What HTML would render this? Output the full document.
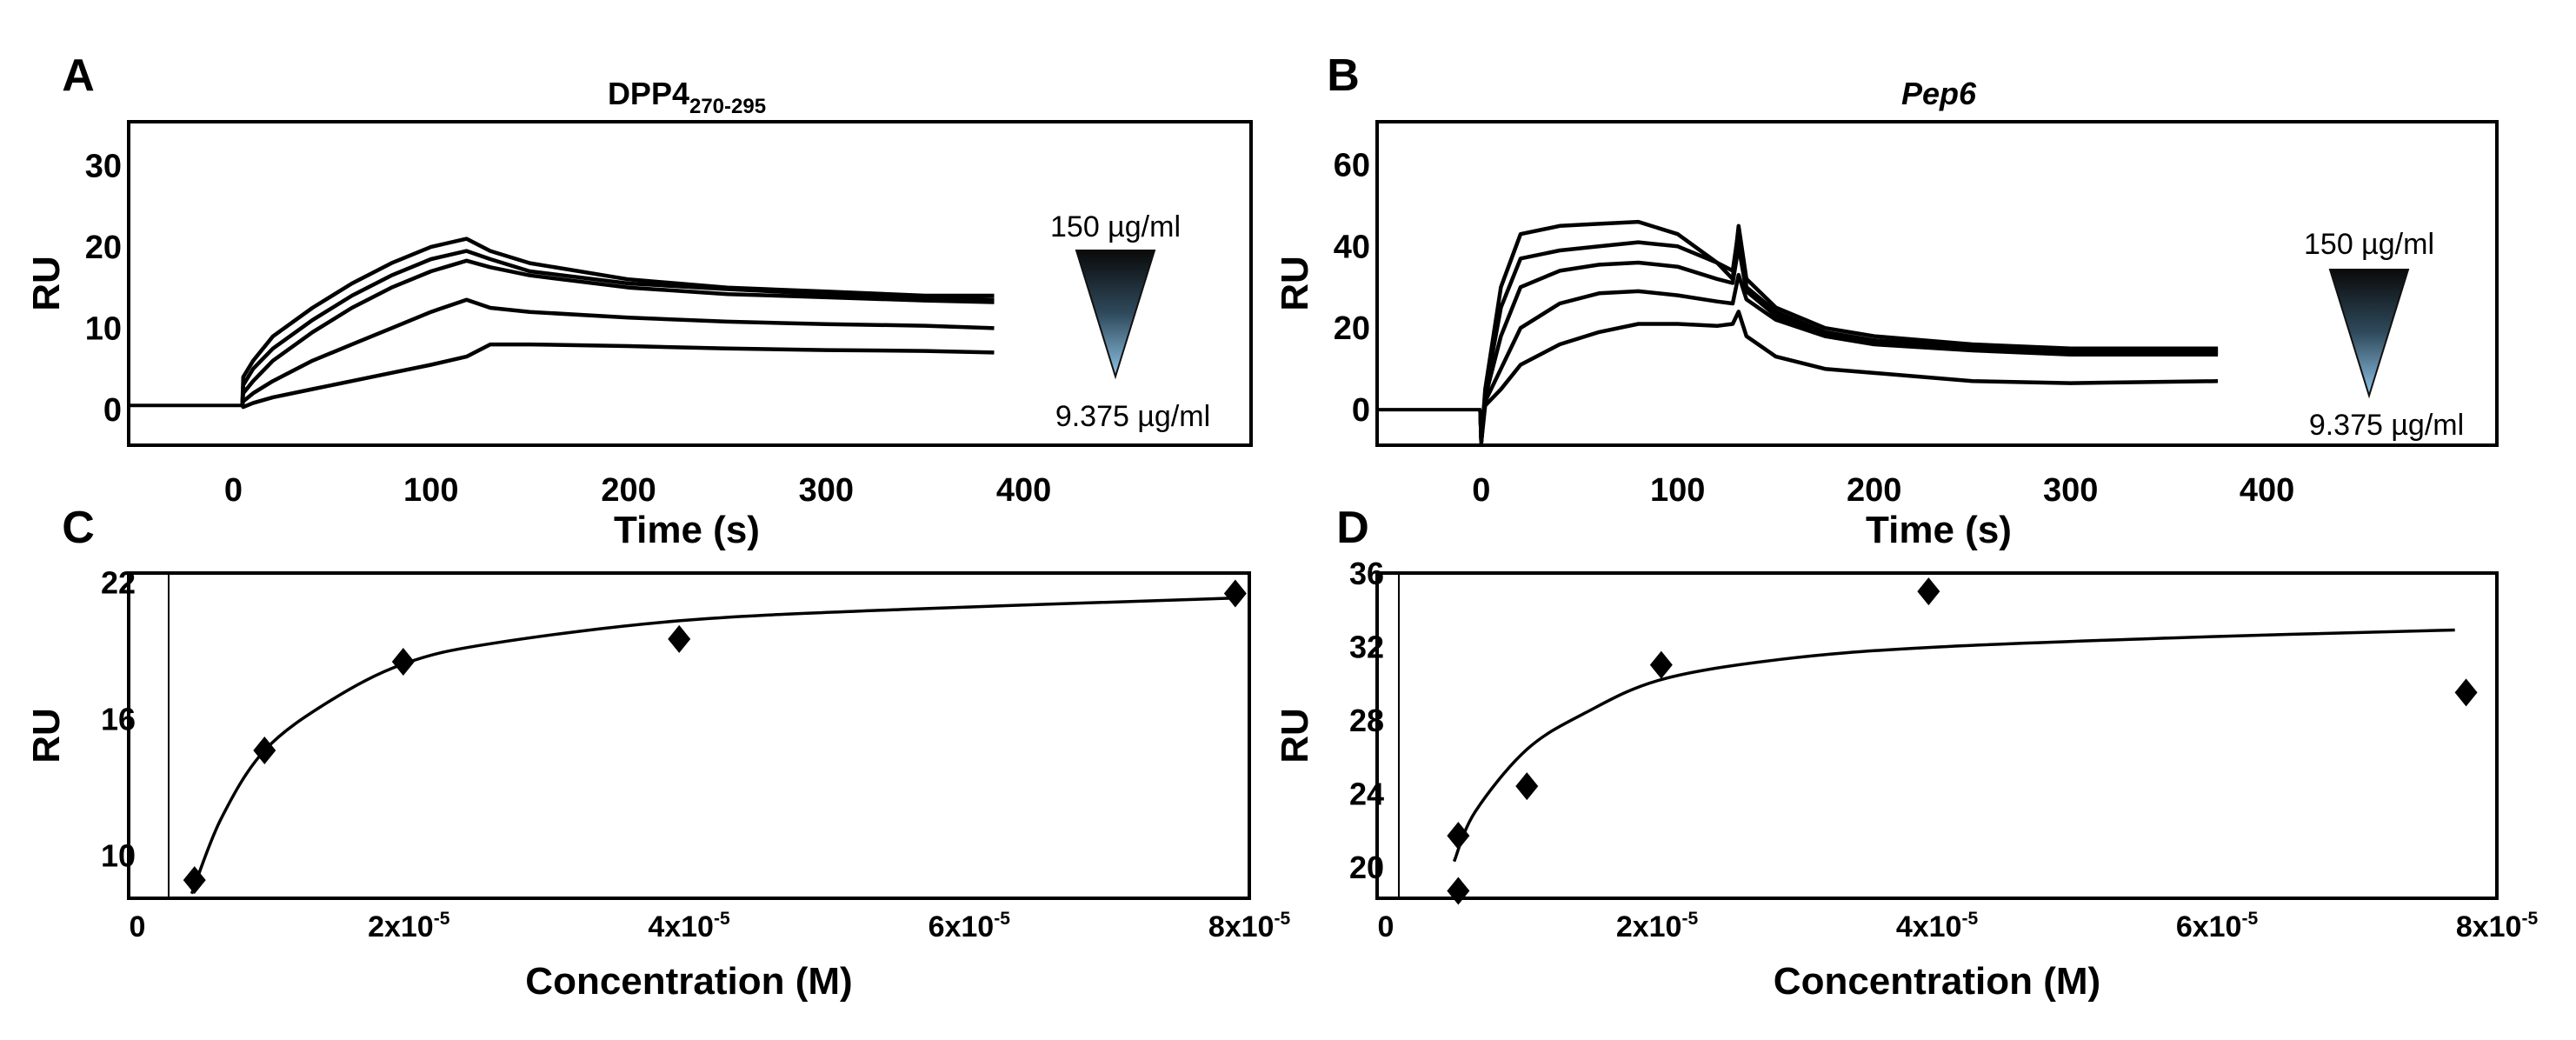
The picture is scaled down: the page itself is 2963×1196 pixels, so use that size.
<!DOCTYPE html>
<html><head><meta charset="utf-8"><style>
html,body{margin:0;padding:0;background:#fff}
svg{display:block;font-family:"Liberation Sans",Arial,sans-serif}
</style></head><body>
<svg id="fig" width="2963" height="1196" viewBox="0 0 2963 1196" xmlns="http://www.w3.org/2000/svg">
<defs><linearGradient id="tri" x1="0" y1="0" x2="0" y2="1"><stop offset="0" stop-color="#0a0a0a"/><stop offset="0.5" stop-color="#2f4a5c"/><stop offset="1" stop-color="#8fc3e6"/></linearGradient></defs>
</svg>
<script>
// ---- Panel A data ----
const aTimes = [5,10,20,40,60,80,100,118,130,150,200,250,300,350,385];
const aCurve1 = [4,6,9,12.5,15.5,18,20,21,19.5,18,16,15,14.5,14,14];
const aCurve2 = [3,5,7.5,11,14,16.5,18.5,19.5,18.5,17,15.5,14.8,14.2,13.8,13.5];
const aCurve3 = [2,3.5,6,9.5,12.5,15,17,18.3,17.5,16.5,15,14.2,13.8,13.4,13.2];
const aCurve4 = [1,2,3.5,6,8,10,12,13.5,12.5,12,11.3,10.8,10.5,10.3,10];
const aCurve5 = [0.3,0.8,1.5,2.5,3.5,4.5,5.5,6.5,8,8,7.8,7.5,7.3,7.2,7];
const aYTicks = [0,10,20,30];
const xTimeTicks = [0,100,200,300,400];
// ---- Panel B data ----
const bTimes = [0,2,10,20,40,60,80,100,120,128,131,135,150,175,200,250,300,375];
const bCurve1 = [-8,5,30,43,45,45.5,46,43,36,32,45,32,25,20,18,16,15,15];
const bCurve2 = [-8,4,25,37,39,40,41,40,36,34,44,30,24,19,17,15.5,14.5,14.5];
const bCurve3 = [-8,3,18,30,34,35.5,36,35,32,31,40,29,23,18.5,16.5,15,14,14];
const bCurve4 = [-8,2,10,20,26,28.5,29,28,26.5,26,33,27,22,18,16,14.5,13.5,13.5];
const bCurve5 = [-8,1,5,11,16,19,21,21,20.5,21,24,18,13,10,9,7,6.5,7];
const bYTicks = [0,20,40,60];
// ---- Panel C data (conc in 1e-5 M) ----
const cConc = [0.47,0.97,1.96,3.93,7.9];
const cRU = [8.9,14.6,18.5,19.5,21.5];
const cFitConc = [0.45,0.66,0.97,1.43,1.96,2.59,3.93,5.52,7.9];
const cFitRU = [8.3,11.6,14.6,16.75,18.4,19.3,20.3,20.8,21.3];
const cYTicks = [10,16,22];
// ---- Panel D data ----
const dConc = [0.58,0.58,1.07,2.03,3.94,7.78];
const dRU = [21.7,18.7,24.4,31,35,29.5];
const dFitConc = [0.55,0.7,1.07,1.49,2.03,2.88,3.94,5.8,7.7];
const dFitRU = [20.3,23,26.4,28.4,30.2,31.3,31.95,32.5,32.9];
const dYTicks = [20,24,28,32,36];
const concTicks = [0,2,4,6,8];

const svg = document.getElementById('fig');
const NS = 'http://www.w3.org/2000/svg';
function mk(tag, attrs, parent){const e=document.createElementNS(NS,tag);for(const k in attrs)e.setAttribute(k,attrs[k]);(parent||svg).appendChild(e);return e;}
function txt(x,y,s,size,weight,anchor,parent,style){const t=mk('text',{x:x,y:y,'font-size':size,'font-weight':weight||'bold','text-anchor':anchor||'middle',fill:'#000'},parent);if(style)t.setAttribute('font-style',style);t.textContent=s;return t;}
function scale(d0,d1,r0,r1){return v=>r0+(v-d0)/(d1-d0)*(r1-r0);}
function linePath(xs,ys,sx,sy){return xs.map((x,i)=>(i?'L':'M')+sx(x).toFixed(1)+','+sy(ys[i]).toFixed(1)).join('');}
function smoothPath(xs,ys,sx,sy){const p=xs.map((x,i)=>[sx(x),sy(ys[i])]);let d='M'+p[0][0]+','+p[0][1];for(let i=0;i<p.length-1;i++){const p0=p[i-1]||p[i],p1=p[i],p2=p[i+1],p3=p[i+2]||p2;d+='C'+(p1[0]+(p2[0]-p0[0])/6)+','+(p1[1]+(p2[1]-p0[1])/6)+' '+(p2[0]-(p3[0]-p1[0])/6)+','+(p2[1]-(p3[1]-p1[1])/6)+' '+p2[0]+','+p2[1];}return d;}

function sensorPanel(id,box,xd,yd,yTicks,times,curves,base,title,italic,legend){
  const g=mk('g',{});
  
  
  const sx=scale(xd[0],xd[1],box.x0,box.x1), sy=scale(yd[0],yd[1],box.y1,box.y0);
  const b=mk('rect',{x:box.x0,y:box.y0,width:box.x1-box.x0,height:box.y1-box.y0,fill:'none',stroke:'#000','stroke-width':4},g);
  
  
  yTicks.forEach(v=>{const t=txt(box.x0-8,sy(v)+13,String(v),38,'bold','end',g);});
  xTimeTicks.forEach(v=>{const t=txt(sx(v),box.y1+64,String(v),38,'bold','middle',g);});
  const bl=mk('path',{d:linePath([xd[0],times[0]],[base,base],sx,sy),fill:'none',stroke:'#000','stroke-width':4},g);
  
  
  curves.forEach((c,i)=>{const p=mk('path',{d:'M'+sx(times[0]-0.5)+','+sy(base)+linePath(times,c,sx,sy).replace('M','L'),fill:'none',stroke:'#000','stroke-width':4.5,'stroke-linejoin':'round'},g);
    
    });
  const yl=txt(0,0,'RU',44,'bold','middle',g);yl.setAttribute('transform','translate('+(box.x0-80)+','+((box.y0+box.y1)/2)+') rotate(-90)');
  
  const xl=txt(box.xc,box.y1+112,'Time (s)',44,'bold','middle',g);
  
  const tt=txt(box.xc,box.y0-20,title,36,'bold','middle',g,italic?'italic':null);
  
  if(!italic){tt.textContent='DPP4';const ts=mk('tspan',{'font-size':24,dy:10},tt);ts.textContent='270-295';}
  const L=legend;
  const l1=txt(L.cx,L.t1,'150 µg/ml',34,'normal','middle',g);
  const tri=mk('polygon',{points:(L.cx-45)+','+L.ty+' '+(L.cx+45)+','+L.ty+' '+L.cx+','+L.by,fill:'url(#tri)',stroke:'#111','stroke-width':2},g);
  
  const l2=txt(L.cx+20,L.t2,'9.375 µg/ml',34,'normal','middle',g);
}

function bindPanel(id,box,yd,yTicks,xs,ys,fx,fy,innerX){
  const g=mk('g',{});
  
  
  const sx=scale(0,8,box.x0,box.x1), sy=scale(yd[0],yd[1],box.y1,box.y0);
  const b=mk('rect',{x:box.x0,y:box.y0,width:box.x1-box.x0,height:box.y1-box.y0,fill:'none',stroke:'#000','stroke-width':4},g);
  
  const il=mk('line',{x1:innerX,x2:innerX,y1:box.y0,y2:box.y1,stroke:'#000','stroke-width':2},g);
  
  yTicks.forEach(v=>{const t=txt(box.x0+8,sy(v)+13,String(v),36,'bold','end',g);});
  concTicks.forEach(v=>{const t=txt(sx(v)+(v?0:10),box.y1+44,'',34,'bold','middle',g);
    
    if(v===0){t.textContent='0';}else{t.textContent=v+'x10';const s=mk('tspan',{'font-size':21,dy:-14},t);s.textContent='-5';}});
  const fit=mk('path',{d:smoothPath(fx,fy,sx,sy),fill:'none',stroke:'#000','stroke-width':3.5},g);
  
  xs.forEach((c,i)=>{const x=sx(c),y=sy(ys[i]);const d=mk('polygon',{points:(x-13)+','+y+' '+x+','+(y-16)+' '+(x+13)+','+y+' '+x+','+(y+16),fill:'#000'},g);
    });
  const yl=txt(0,0,'RU',44,'bold','middle',g);yl.setAttribute('transform','translate('+(box.x0-80)+','+((box.y0+box.y1)/2)+') rotate(-90)');
  
  const xl=txt((box.x0+box.x1)/2,box.y1+110,'Concentration (M)',44,'bold','middle',g);
  
}

sensorPanel('a',{x0:148,x1:1439,y0:140,y1:512,xc:790},[-53,515],[-4.4,35.4],aYTicks,aTimes,[aCurve1,aCurve2,aCurve3,aCurve4,aCurve5],0.5,'DPP4',false,{cx:1283,t1:272,ty:288,by:433,t2:490});
sensorPanel('b',{x0:1584,x1:2872,y0:140,y1:512,xc:2230},[-53,517],[-8.7,70.5],bYTicks,bTimes,[bCurve1,bCurve2,bCurve3,bCurve4,bCurve5],0,'Pep6',true,{cx:2725,t1:292,ty:310,by:455,t2:500});
bindPanel('c',{x0:148,x1:1437,y0:659,y1:1033},[8.1,22.4],cYTicks,cConc,cRU,cFitConc,cFitRU,194);
bindPanel('d',{x0:1584,x1:2872,y0:659,y1:1033},[18.3,36],dYTicks,dConc,dRU,dFitConc,dFitRU,1609);

[['A',90,104],['B',1545,104],['C',90,624],['D',1556,624]].forEach(l=>{const t=txt(l[1],l[2],l[0],52,'bold','middle');
  
  });
</script>
</body></html>
